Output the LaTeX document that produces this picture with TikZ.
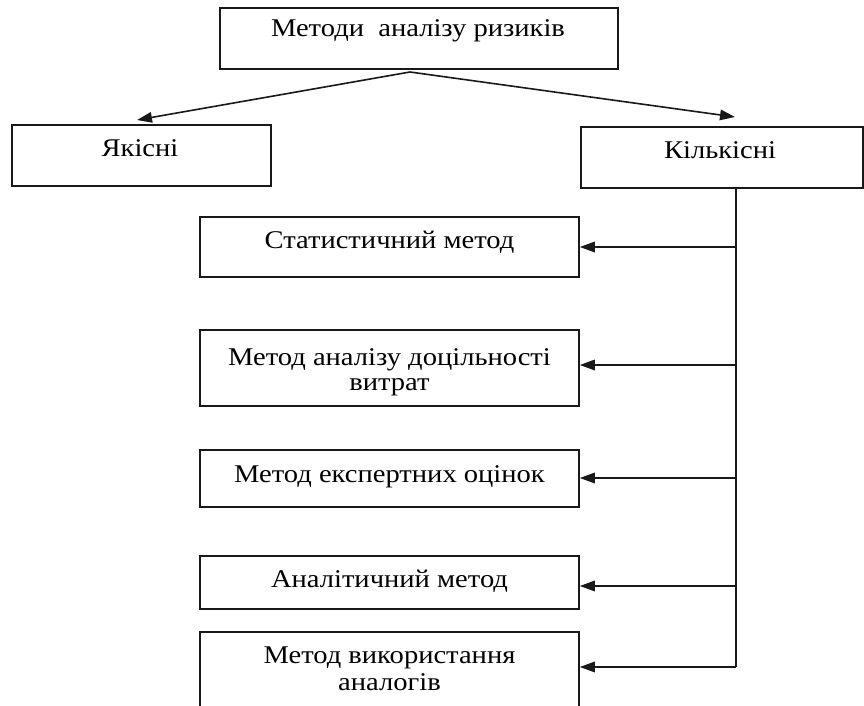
\documentclass[tikz,border=0pt]{standalone}
\usepackage{fontspec}
\setmainfont{Liberation Serif}[FakeStretch=1.12]
\usetikzlibrary{arrows.meta}
\tikzset{
  box/.style={draw=black!90, line width=1.6pt, rectangle, inner sep=0pt},
  txt/.style={inner sep=0pt, font=\fontsize{25.5}{28}\selectfont, text=black},
  conn/.style={draw=black!90, line width=1.6pt, -{Triangle[length=15pt,width=10.5pt]}},
  plain/.style={draw=black!90, line width=1.6pt}
}
\begin{document}
\begin{tikzpicture}[x=1pt,y=-1pt]
\useasboundingbox (0,0) rectangle (864,706);
\clip (0,0) rectangle (864,706);
% top
\node[box, minimum width=398pt, minimum height=61pt] (top) at (419,38.5) {};
\node[txt, anchor=base] (topt) at (418,37) {Методи\ \ аналізу ризиків};
% level 2
\node[box, minimum width=259pt, minimum height=61pt] (yak) at (141.5,155.5) {};
\node[txt, anchor=base] (yakt) at (140,156) {Якісні};
\node[box, minimum width=282pt, minimum height=61pt] (kil) at (722,157.5) {};
\node[txt, anchor=base] (kilt) at (720,158) {Кількісні};
% methods
\node[box, minimum width=379pt, minimum height=60pt] (m1) at (389.5,247) {};
\node[txt, anchor=base] (m1t) at (389.5,248) {Статистичний метод};
\node[box, minimum width=379pt, minimum height=76pt] (m2) at (389.5,368) {};
\node[txt, anchor=base] (m2t) at (389.5,365) {Метод аналізу доцільності};
\node[txt, anchor=base] (m2u) at (389.5,390) {витрат};
\node[box, minimum width=379pt, minimum height=57pt] (m3) at (389.5,478.5) {};
\node[txt, anchor=base] (m3t) at (389.5,482) {Метод експертних оцінок};
\node[box, minimum width=379pt, minimum height=53pt] (m4) at (389.5,582.5) {};
\node[txt, anchor=base] (m4t) at (389.5,587) {Аналітичний метод};
\node[box, minimum width=379pt, minimum height=84pt] (m5) at (389.5,674) {};
\node[txt, anchor=base] (m5t) at (389.5,663) {Метод використання};
\node[txt, anchor=base] (m5u) at (389.5,690) {аналогів};
% top arrows
\coordinate (apex) at (410,72);
\draw[conn] (apex) -- (137,120);
\draw[conn] (apex) -- (735,117);
% trunk
\coordinate (t1) at (736,247);
\coordinate (t2) at (736,365);
\coordinate (t3) at (736,478);
\coordinate (t4) at (736,586);
\coordinate (t5) at (736,667);
\draw[plain] (kil.south -| t1) -- (t5);
\draw[conn] (t1) -- (m1.east |- t1);
\draw[conn] (t2) -- (m2.east |- t2);
\draw[conn] (t3) -- (m3.east |- t3);
\draw[conn] (t4) -- (m4.east |- t4);
\draw[conn] (t5) -- (m5.east |- t5);
\end{tikzpicture}
\end{document}
